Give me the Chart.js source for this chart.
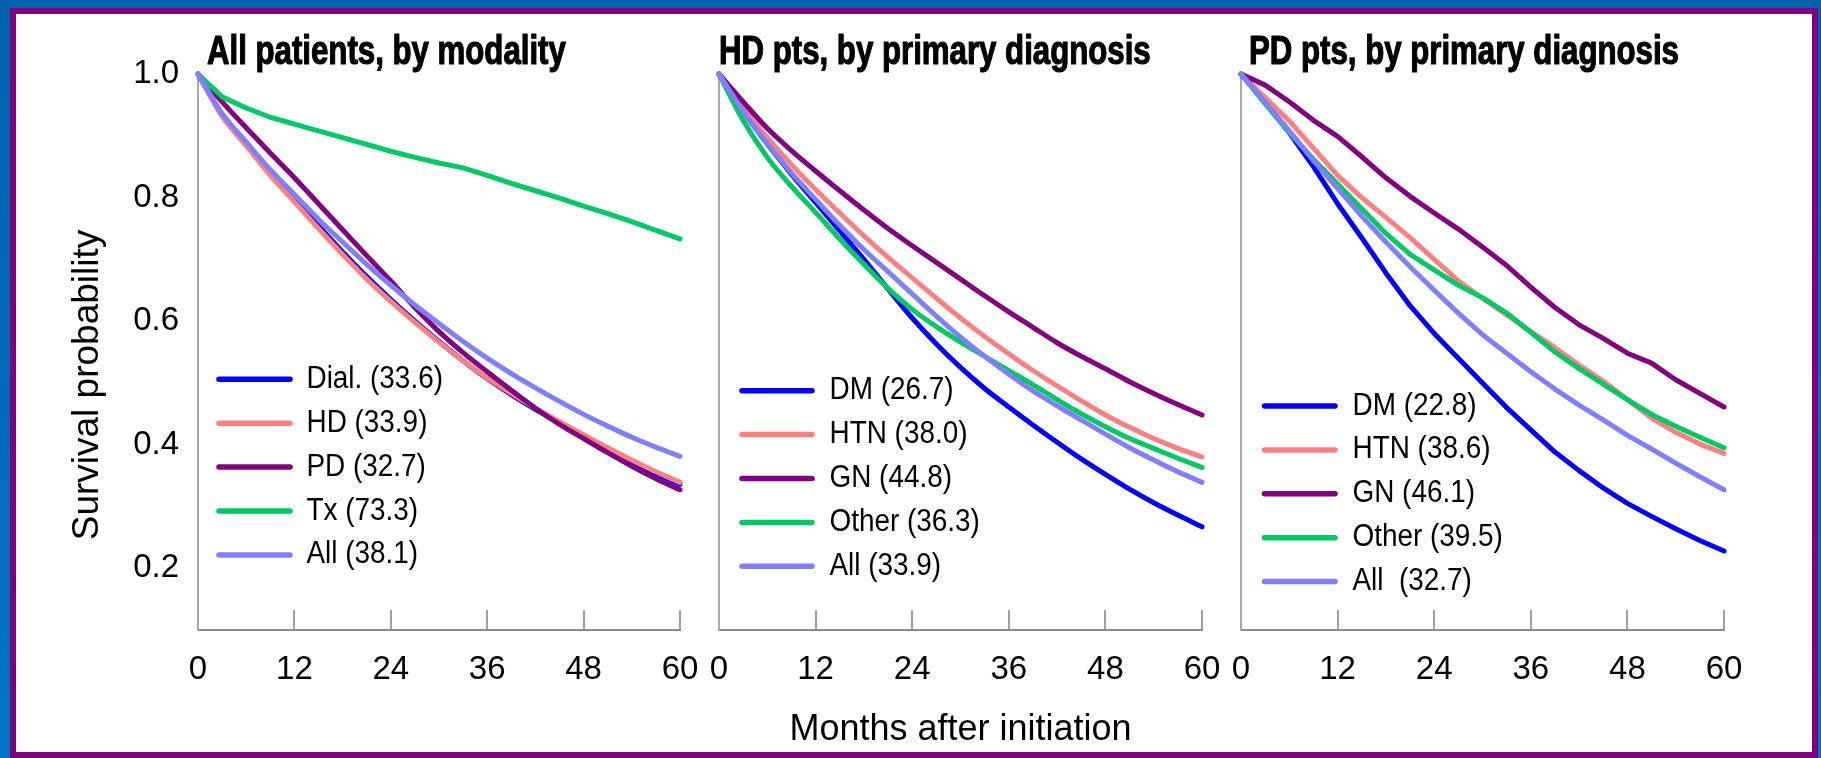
<!DOCTYPE html>
<html>
<head>
<meta charset="utf-8">
<style>
  html, body { margin: 0; padding: 0; }
  body { width: 1821px; height: 758px; overflow: hidden; position: relative;
         background: linear-gradient(to bottom, #0062AA, #0074C6); }
  #frame { position: absolute; left: 10px; top: 8px; width: 1808px; height: 750px;
           box-sizing: border-box; border: 6px solid #800080; background: #ffffff; }
  canvas { position: absolute; left: 0; top: 0; }
</style>
<script src="https://cdn.jsdelivr.net/npm/chart.js"></script>
</head>
<body>
<div id="frame"></div>
<canvas id="c1" width="1821" height="758"></canvas>
<canvas id="c2" width="1821" height="758"></canvas>
<canvas id="c3" width="1821" height="758"></canvas>
<script>
// ---------------- DATA ----------------
const months = [0, 3, 6, 9, 12, 15, 18, 21, 24, 27, 30, 33, 36, 39, 42, 45, 48, 51, 54, 57, 60];
const xTickValues = [0, 12, 24, 36, 48, 60];
const yTickValues = [0.2, 0.4, 0.6, 0.8, 1.0];

const panelTitles = ['All patients, by modality', 'HD pts, by primary diagnosis', 'PD pts, by primary diagnosis'];
const yAxisTitle = 'Survival probability';
const xAxisTitle = 'Months after initiation';

// Panel 1: all patients, by modality
const p1Labels = ['Dial. (33.6)', 'HD (33.9)', 'PD (32.7)', 'Tx (73.3)', 'All (38.1)'];
const p1Dial = [1.0, 0.933, 0.886, 0.839, 0.797, 0.754, 0.712, 0.672, 0.635, 0.600, 0.567, 0.536, 0.507, 0.481, 0.457, 0.435, 0.413, 0.392, 0.372, 0.353, 0.336];
const p1HD   = [1.0, 0.932, 0.884, 0.836, 0.793, 0.750, 0.708, 0.668, 0.632, 0.598, 0.566, 0.536, 0.508, 0.483, 0.459, 0.437, 0.416, 0.395, 0.375, 0.356, 0.339];
const p1PD   = [1.0, 0.955, 0.913, 0.872, 0.832, 0.790, 0.748, 0.706, 0.665, 0.622, 0.583, 0.549, 0.518, 0.488, 0.459, 0.433, 0.410, 0.387, 0.365, 0.345, 0.327];
const p1Tx   = [1.0, 0.963, 0.945, 0.930, 0.919, 0.908, 0.897, 0.886, 0.875, 0.865, 0.856, 0.848, 0.836, 0.823, 0.811, 0.799, 0.786, 0.774, 0.761, 0.747, 0.733];
const p1All  = [1.0, 0.936, 0.890, 0.845, 0.805, 0.765, 0.728, 0.692, 0.658, 0.626, 0.596, 0.567, 0.540, 0.515, 0.492, 0.470, 0.449, 0.430, 0.412, 0.396, 0.381];

// Panel 2: HD patients, by primary diagnosis
const p2Labels = ['DM (26.7)', 'HTN (38.0)', 'GN (44.8)', 'Other (36.3)', 'All (33.9)'];
const p2DM    = [1.0, 0.940, 0.887, 0.838, 0.792, 0.746, 0.700, 0.652, 0.605, 0.563, 0.525, 0.491, 0.461, 0.432, 0.404, 0.377, 0.352, 0.328, 0.306, 0.286, 0.267];
const p2HTN   = [1.0, 0.945, 0.897, 0.853, 0.813, 0.775, 0.738, 0.703, 0.670, 0.637, 0.605, 0.575, 0.547, 0.520, 0.495, 0.471, 0.448, 0.428, 0.410, 0.394, 0.380];
const p2GN    = [1.0, 0.955, 0.912, 0.876, 0.843, 0.811, 0.780, 0.750, 0.722, 0.695, 0.668, 0.641, 0.615, 0.590, 0.565, 0.543, 0.523, 0.502, 0.483, 0.465, 0.448];
const p2Other = [1.0, 0.925, 0.865, 0.818, 0.776, 0.733, 0.692, 0.653, 0.619, 0.591, 0.566, 0.543, 0.520, 0.497, 0.473, 0.450, 0.429, 0.410, 0.394, 0.378, 0.363];
const p2All   = [1.0, 0.940, 0.888, 0.840, 0.797, 0.755, 0.716, 0.680, 0.644, 0.608, 0.574, 0.543, 0.514, 0.487, 0.463, 0.440, 0.417, 0.395, 0.375, 0.356, 0.339];

// Panel 3: PD patients, by primary diagnosis
const p3Labels = ['DM (22.8)', 'HTN (38.6)', 'GN (46.1)', 'Other (39.5)', 'All  (32.7)'];
const p3DM    = [1.0, 0.955, 0.905, 0.850, 0.790, 0.735, 0.678, 0.625, 0.580, 0.540, 0.500, 0.460, 0.424, 0.388, 0.358, 0.330, 0.305, 0.284, 0.264, 0.245, 0.228];
const p3HTN   = [1.0, 0.962, 0.924, 0.880, 0.836, 0.800, 0.768, 0.735, 0.700, 0.665, 0.637, 0.610, 0.583, 0.557, 0.529, 0.503, 0.473, 0.443, 0.420, 0.401, 0.386];
const p3GN    = [1.0, 0.982, 0.955, 0.925, 0.899, 0.866, 0.832, 0.802, 0.775, 0.749, 0.720, 0.690, 0.655, 0.622, 0.594, 0.572, 0.548, 0.532, 0.505, 0.483, 0.461];
const p3Other = [1.0, 0.952, 0.905, 0.862, 0.822, 0.782, 0.742, 0.708, 0.683, 0.658, 0.638, 0.613, 0.582, 0.550, 0.523, 0.498, 0.473, 0.449, 0.430, 0.412, 0.395];
const p3All   = [1.0, 0.955, 0.908, 0.860, 0.815, 0.770, 0.728, 0.688, 0.650, 0.613, 0.578, 0.548, 0.518, 0.490, 0.464, 0.440, 0.415, 0.393, 0.370, 0.348, 0.327];

// ---------------- STYLE ----------------
const palette = ['#0000FF', '#FF8080', '#800080', '#00C864', '#8080FF'];
const FONT = '"Liberation Sans", Arial, sans-serif';
Chart.defaults.font.family = FONT;
Chart.defaults.color = '#000000';

const Y_MIN = 0.1, Y_MAX = 1.0;

const decor = {
  id: 'decor',
  afterDraw(chart, args, o) {
    const ctx = chart.ctx, a = chart.chartArea;
    // panel title (bold, condensed)
    ctx.save();
    ctx.font = 'bold 40px ' + FONT;
    ctx.fillStyle = '#000';
    ctx.strokeStyle = '#000';
    ctx.lineWidth = 1.2;
    ctx.lineJoin = 'round';
    ctx.textAlign = 'left';
    ctx.textBaseline = 'alphabetic';
    ctx.translate(a.left + o.titleDx, 63.5);
    ctx.scale(0.78, 1);
    ctx.fillText(o.title, 0, 0);
    ctx.strokeText(o.title, 0, 0);
    ctx.restore();
    // legend
    chart.data.datasets.forEach((d, i) => {
      const y = o.legendTop + i * 43.9;
      ctx.save();
      ctx.strokeStyle = d.borderColor;
      ctx.lineWidth = 5.5;
      ctx.lineCap = 'round';
      ctx.beginPath();
      ctx.moveTo(a.left + o.lineX0, y);
      ctx.lineTo(a.left + o.lineX1, y);
      ctx.stroke();
      ctx.font = '31px ' + FONT;
      ctx.fillStyle = '#000';
      ctx.textAlign = 'left';
      ctx.textBaseline = 'middle';
      ctx.translate(a.left + o.textX, y);
      ctx.scale(0.9, 1);
      ctx.fillText(d.label, 0, 0);
      ctx.restore();
    });
    // y axis title
    if (o.yTitle) {
      ctx.save();
      ctx.font = '37px ' + FONT;
      ctx.fillStyle = '#000';
      ctx.textAlign = 'center';
      ctx.textBaseline = 'alphabetic';
      ctx.translate(98, 385);
      ctx.rotate(-Math.PI / 2);
      ctx.fillText(o.yTitle, 0, 0);
      ctx.restore();
    }
  }
};

function makeDatasets(labels, series, smooth) {
  return series.map((vals, i) => ({
    label: labels[i],
    data: months.map((m, k) => ({ x: m, y: vals[k] })),
    borderColor: palette[i],
    backgroundColor: palette[i],
    borderWidth: 5,
    borderCapStyle: 'round',
    borderJoinStyle: 'round',
    pointRadius: 0,
    fill: false,
    clip: false,
    order: series.length - i,
    tension: smooth[i] ? 0.4 : 0,
    cubicInterpolationMode: smooth[i] ? 'monotone' : 'default'
  }));
}

function makeChart(id, datasets, pad, showYLabels, showXTitle, decorOpts) {
  return new Chart(document.getElementById(id), {
    type: 'line',
    data: { datasets },
    plugins: [decor],
    options: {
      responsive: false,
      devicePixelRatio: 1,
      animation: false,
      events: [],
      layout: { padding: pad },
      plugins: { legend: { display: false }, tooltip: { enabled: false }, title: { display: false }, decor: decorOpts },
      scales: {
        x: {
          type: 'linear', min: 0, max: 60,
          afterBuildTicks: s => { s.ticks = xTickValues.map(v => ({ value: v })); },
          afterFit: s => { s.height = 128; },
          grid: { display: true, drawOnChartArea: false, drawTicks: true, tickLength: -20, color: '#A0A0A0', lineWidth: 2 },
          border: { display: true, color: '#8C8C8C', width: 2 },
          ticks: { color: '#000', font: { size: 33 }, padding: 40, maxRotation: 0, autoSkip: false,
                   callback: v => String(v) },
          title: { display: showXTitle, text: xAxisTitle, color: '#000',
                   font: { size: 36, lineHeight: 1.2 }, padding: { top: 0, bottom: 6 } }
        },
        y: {
          type: 'linear', min: Y_MIN, max: Y_MAX,
          afterBuildTicks: s => { s.ticks = yTickValues.map(v => ({ value: v })); },
          afterFit: s => { s.width = showYLabels ? 98 : 0; },
          grid: { display: false, drawOnChartArea: false, drawTicks: false },
          border: { display: true, color: '#A8A8A8', width: 2 },
          ticks: { display: showYLabels, color: '#000', font: { size: 33 }, padding: 19,
                   callback: v => Number(v).toFixed(1) }
        }
      }
    }
  });
}

makeChart('c1',
  makeDatasets(p1Labels, [p1Dial, p1HD, p1PD, p1Tx, p1All], [true, true, true, false, true]),
  { left: 100, right: 1141, top: 74, bottom: 0 }, true, false,
  { title: panelTitles[0], titleDx: 9, legendTop: 379.3, lineX0: 21, lineX1: 92, textX: 108.5, yTitle: yAxisTitle });

makeChart('c2',
  makeDatasets(p2Labels, [p2DM, p2HTN, p2GN, p2Other, p2All], [true, true, true, true, true]),
  { left: 719, right: 619, top: 74, bottom: 0 }, false, true,
  { title: panelTitles[1], titleDx: 0, legendTop: 390.7, lineX0: 23, lineX1: 93, textX: 110.5 });

makeChart('c3',
  makeDatasets(p3Labels, [p3DM, p3HTN, p3GN, p3Other, p3All], [false, false, false, false, false]),
  { left: 1241, right: 97, top: 74, bottom: 0 }, false, false,
  { title: panelTitles[2], titleDx: 8, legendTop: 406, lineX0: 23.5, lineX1: 94, textX: 111.5 });
</script>
</body>
</html>
